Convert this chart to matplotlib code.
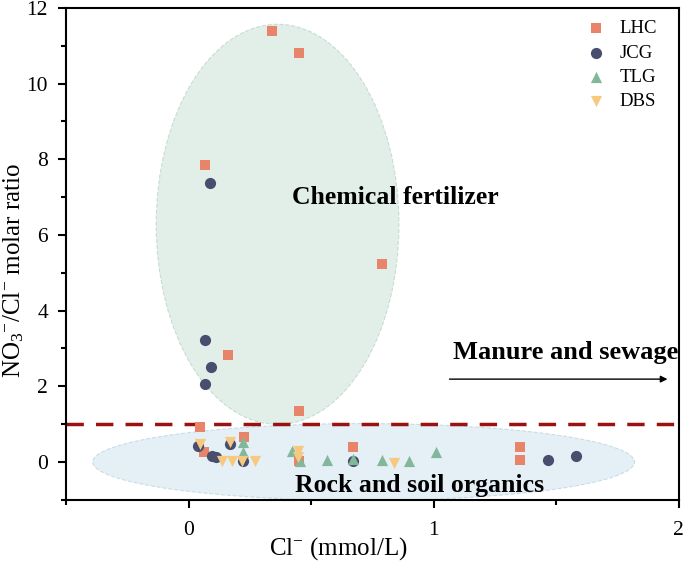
import matplotlib
matplotlib.use("Agg")
import matplotlib.pyplot as plt
from matplotlib.patches import Ellipse
from matplotlib.ticker import MultipleLocator

plt.rcParams['font.family'] = ['Liberation Serif', 'DejaVu Serif']
plt.rcParams['mathtext.fontset'] = 'custom'
plt.rcParams['mathtext.rm'] = 'Liberation Serif'
plt.rcParams['mathtext.it'] = 'Liberation Serif:italic'

# Cl- (mmol/L) and NO3-/Cl- molar ratio per group
lhc_x = [0.339, 0.449, 0.065, 0.788, 0.159, 0.449, 0.045, 0.224, 0.061, 0.449, 0.67, 1.35, 1.35]
lhc_y = [11.39, 10.81, 7.86, 5.22, 2.82, 1.34, 0.92, 0.66, 0.26, 0.03, 0.40, 0.40, 0.05]
jcg_x = [0.086, 0.065, 0.09, 0.065, 0.04, 0.094, 0.11, 0.167, 0.22, 0.67, 1.465, 1.58]
jcg_y = [7.38, 3.22, 2.50, 2.06, 0.42, 0.16, 0.14, 0.47, 0.03, 0.03, 0.05, 0.16]
tlg_x = [0.22, 0.22, 0.42, 0.453, 0.563, 0.67, 0.788, 0.90, 1.01]
tlg_y = [0.53, 0.26, 0.29, 0.03, 0.05, 0.08, 0.05, 0.03, 0.26]
dbs_x = [0.045, 0.167, 0.135, 0.176, 0.216, 0.27, 0.445, 0.445, 0.84]
dbs_y = [0.47, 0.53, 0.03, 0.03, 0.03, 0.03, 0.29, 0.13, -0.03]

fig = plt.figure(figsize=(6.85, 5.61), dpi=100)
ax = fig.add_axes([0.0964, 0.109, 0.8946, 0.877])

# source regions
ax.add_patch(Ellipse((0.363, 6.28), 0.99, 10.57, facecolor='#e2efe9',
                     edgecolor='#c5ddd3', linestyle='--', lw=0.8, zorder=0))
ax.add_patch(Ellipse((0.714, 0.0), 2.21, 2.03, facecolor='#e5eff6',
                     edgecolor='#c9dde6', linestyle='--', lw=0.8, zorder=0))

ms = 55
ax.scatter(lhc_x, lhc_y, marker='s', s=ms, color='#e8846a', label='LHC', zorder=3, lw=0)
ax.scatter(jcg_x, jcg_y, marker='o', s=ms+10, color='#4a4e6e', label='JCG', zorder=3, lw=0)
ax.scatter(tlg_x, tlg_y, marker='^', s=ms+10, color='#82b79c', label='TLG', zorder=3, lw=0)
ax.scatter(dbs_x, dbs_y, marker='v', s=ms+10, color='#f6c97f', label='DBS', zorder=3, lw=0)

ax.axhline(1, color='#9b1010', lw=2.5, ls=(0, (5, 3.5)), zorder=2)

ax.text(0.845, 6.98, 'Chemical fertilizer', fontsize=18.5, fontweight='bold',
        ha='center', va='center')
ax.text(1.54, 2.9, 'Manure and sewage', fontsize=19, fontweight='bold',
        ha='center', va='center')
ax.annotate('', xy=(1.965, 2.19), xytext=(1.053, 2.19),
            arrowprops=dict(arrowstyle='-|>', color='black', lw=1, mutation_scale=10))
ax.text(0.943, -0.63, 'Rock and soil organics', fontsize=18.5, fontweight='bold',
        ha='center', va='center')

ax.set_xlim(-0.5, 2)
ax.set_ylim(-1, 12)
ax.xaxis.set_major_locator(MultipleLocator(1))
ax.xaxis.set_minor_locator(MultipleLocator(0.5))
ax.yaxis.set_major_locator(MultipleLocator(2))
ax.yaxis.set_minor_locator(MultipleLocator(1))
ax.tick_params(which='major', direction='out', length=6, width=1.5,
               labelsize=15.5, pad=7)
ax.tick_params(axis='x', which='major', pad=9)
ax.tick_params(which='minor', direction='out', length=3.5, width=1.5)
for sp in ax.spines.values():
    sp.set_linewidth(1.5)

ax.set_xlabel('Cl$^{-}$ (mmol/L)', fontsize=18)
ax.set_ylabel('NO$_3$$^{-}$/Cl$^{-}$ molar ratio', fontsize=18)
ax.xaxis.set_label_coords(0.444, -0.072)
ax.yaxis.set_label_coords(-0.066, 0.467)

ax.legend(loc='upper right', bbox_to_anchor=(0.964, 0.975), frameon=False,
          fontsize=13.5, handlelength=1.5, handletextpad=0.5,
          labelspacing=0.38, borderaxespad=0, borderpad=0, scatterpoints=1)

fig.savefig('out.png', dpi=100)
